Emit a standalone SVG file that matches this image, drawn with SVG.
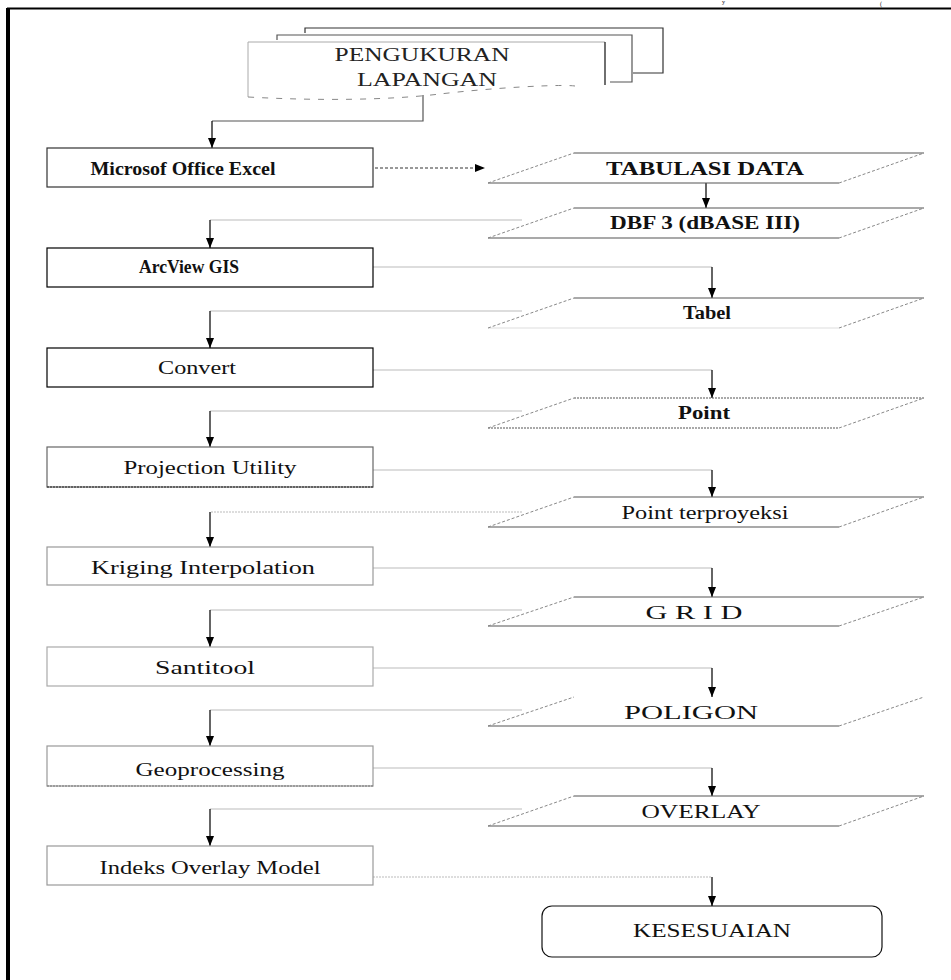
<svg xmlns="http://www.w3.org/2000/svg" width="951" height="980" viewBox="0 0 951 980">
<defs>
<marker id="ah" viewBox="0 0 10 8" refX="10" refY="4" markerWidth="10" markerHeight="8" orient="auto" markerUnits="userSpaceOnUse">
<path d="M0,0 L10,4 L0,8 z" fill="#000"/>
</marker>
</defs>
<style>
text{font-family:"Liberation Serif","Times New Roman",serif;font-size:18px;fill:#111;text-anchor:middle}
.b{font-weight:bold}
.frag{font-size:6px;text-anchor:start}
.box{fill:#fff;stroke-width:1.2}
.pe{stroke:#555;stroke-width:1.2;fill:none}
.ps{stroke:#888;stroke-width:1;stroke-dasharray:3 2;fill:none}
.h{stroke:#bbb;stroke-width:1.2;fill:none}
.v{stroke:#111;stroke-width:1.3;fill:none;marker-end:url(#ah)}
</style>
<rect width="951" height="980" fill="#fff"/>
<g id="frame">
<line x1="7" y1="8.5" x2="951" y2="8.5" stroke="#000" stroke-width="2"/>
<rect x="6" y="8" width="4" height="972" fill="#000"/>
<text class="frag" x="722" y="4">y</text>
<text class="frag" x="880" y="5.5">(</text>
</g>
<g id="connectors">
<path d="M423,95 V121 H212" stroke="#555" stroke-width="1.2" fill="none"/>
<path class="v" d="M212,121 V148"/>
<path d="M375,168 H485" stroke="#333" stroke-width="1" stroke-dasharray="3 2" fill="none" marker-end="url(#ah)"/>
<path class="v" d="M706,183 V208"/>
<path class="h" d="M522,220 H210"/><path class="v" d="M210,220 V248"/>
<path class="h" d="M373,267 H712"/><path class="v" d="M712,267 V298"/>
<path class="h" d="M522,311 H210"/><path class="v" d="M210,311 V348"/>
<path class="h" d="M373,370 H712"/><path class="v" d="M712,370 V398"/>
<path class="h" d="M522,411 H210"/><path class="v" d="M210,411 V447"/>
<path class="h" d="M373,470 H712"/><path class="v" d="M712,470 V497"/>
<path class="h" d="M522,512 H210" stroke-dasharray="2 1"/><path class="v" d="M210,512 V547"/>
<path class="h" d="M373,568 H712"/><path class="v" d="M712,568 V597"/>
<path class="h" d="M522,610 H210"/><path class="v" d="M210,610 V647"/>
<path class="h" d="M373,668 H712"/><path class="v" d="M712,668 V697"/>
<path class="h" d="M522,710 H210"/><path class="v" d="M210,710 V746"/>
<path class="h" d="M373,768 H712"/><path class="v" d="M712,768 V796"/>
<path class="h" d="M522,809 H210"/><path class="v" d="M210,809 V846"/>
<path class="h" d="M373,877 H712" stroke-dasharray="2 1"/><path class="v" d="M712,877 V906"/>
</g>
<g id="pengukuran">
<path d="M305,33 V28 H663 V73 H633" fill="none" stroke="#333" stroke-width="1.2"/>
<path d="M277,40 V35 H632 V82 H610" fill="none" stroke="#555" stroke-width="1.2"/>
<path d="M248,97 V42 H605" fill="#fff" stroke="#aaa" stroke-width="1"/>
<path d="M605,42 V85" fill="none" stroke="#222" stroke-width="1.3"/>
<path d="M248,97 C320,101 390,100 440,94 S560,84 575,86" fill="none" stroke="#888" stroke-width="1" stroke-dasharray="6 8"/>
<text x="422" y="61" textLength="175" lengthAdjust="spacingAndGlyphs" style="fill:#222">PENGUKURAN</text>
<text x="427" y="86" textLength="140" lengthAdjust="spacingAndGlyphs" style="fill:#222">LAPANGAN</text>
</g>
<g id="excel">
<rect class="box" x="47" y="148" width="326" height="39" stroke="#333"/>
<text class="b" x="183" y="175" textLength="185" lengthAdjust="spacingAndGlyphs">Microsof Office Excel</text>
</g>
<g id="tabulasi">
<path class="pe" d="M574,153 H924 M488,183 H839"/>
<path class="ps" d="M488,183 L574,153 M839,183 L924,153"/>
<text class="b" x="705" y="175" textLength="198" lengthAdjust="spacingAndGlyphs">TABULASI DATA</text>
</g>
<g id="dbf">
<path class="pe" d="M574,208 H924 M488,238 H839"/>
<path class="ps" d="M488,238 L574,208 M839,238 L924,208"/>
<text class="b" x="705" y="229" textLength="190" lengthAdjust="spacingAndGlyphs">DBF 3 (dBASE III)</text>
</g>
<g id="arcview">
<rect class="box" x="47" y="248" width="326" height="39" stroke="#000"/>
<text class="b" x="189" y="273" textLength="100" lengthAdjust="spacingAndGlyphs">ArcView GIS</text>
</g>
<g id="tabel">
<path class="pe" d="M574,298 H924"/>
<path d="M488,328 H839" stroke="#ddd" stroke-width="1" fill="none"/>
<path class="ps" d="M488,328 L574,298 M839,328 L924,298"/>
<text class="b" x="707" y="319" textLength="48" lengthAdjust="spacingAndGlyphs">Tabel</text>
</g>
<g id="convert">
<rect class="box" x="47" y="348" width="326" height="39" stroke="#000"/>
<text x="197" y="374" textLength="78" lengthAdjust="spacingAndGlyphs">Convert</text>
</g>
<g id="point">
<path class="pe" d="M574,398 H924 M488,428 H839" stroke-dasharray="2 1"/>
<path class="ps" d="M488,428 L574,398 M839,428 L924,398"/>
<text class="b" x="704" y="419" textLength="52" lengthAdjust="spacingAndGlyphs">Point</text>
</g>
<g id="projection">
<rect class="box" x="47" y="447" width="326" height="40" stroke="#666"/>
<path d="M47,487 H373" stroke="#222" stroke-width="1.2" stroke-dasharray="2 1" fill="none"/>
<text x="210" y="474" textLength="173" lengthAdjust="spacingAndGlyphs">Projection Utility</text>
</g>
<g id="terproyeksi">
<path class="pe" d="M574,497 H924 M488,527 H839" stroke="#999"/>
<path class="ps" d="M488,527 L574,497 M839,527 L924,497" stroke="#aaa"/>
<text x="705" y="519" textLength="167" lengthAdjust="spacingAndGlyphs">Point terproyeksi</text>
</g>
<g id="kriging">
<rect class="box" x="47" y="547" width="326" height="38" stroke="#999"/>
<text x="203" y="574" textLength="224" lengthAdjust="spacingAndGlyphs">Kriging Interpolation</text>
</g>
<g id="grid">
<path class="pe" d="M574,597 H924 M488,626 H839" stroke="#999"/>
<path class="ps" d="M488,626 L574,597 M839,626 L924,597" stroke="#aaa"/>
<text x="694" y="619" textLength="97" lengthAdjust="spacingAndGlyphs">G R I D</text>
</g>
<g id="santitool">
<rect class="box" x="47" y="647" width="326" height="39" stroke="#aaa"/>
<text x="205" y="674" textLength="100" lengthAdjust="spacingAndGlyphs">Santitool</text>
</g>
<g id="poligon">
<path class="pe" d="M488,726 H839" stroke="#999"/>
<path class="ps" d="M488,726 L574,697 M839,726 L924,697" stroke="#aaa"/>
<text x="691" y="719" textLength="134" lengthAdjust="spacingAndGlyphs">POLIGON</text>
</g>
<g id="geoprocessing">
<rect class="box" x="47" y="746" width="326" height="40" stroke="#999"/>
<path d="M47,786 H373" stroke="#777" stroke-width="1.2" stroke-dasharray="2 1" fill="none"/>
<text x="210" y="776" textLength="149" lengthAdjust="spacingAndGlyphs">Geoprocessing</text>
</g>
<g id="overlay">
<path class="pe" d="M574,796 H924 M488,826 H839" stroke="#999"/>
<path class="ps" d="M488,826 L574,796 M839,826 L924,796" stroke="#aaa"/>
<text x="701" y="818" textLength="119" lengthAdjust="spacingAndGlyphs">OVERLAY</text>
</g>
<g id="indeks">
<rect class="box" x="47" y="846" width="326" height="39" stroke="#999"/>
<text x="210" y="874" textLength="221" lengthAdjust="spacingAndGlyphs">Indeks Overlay Model</text>
</g>
<g id="kesesuaian">
<rect class="box" x="542" y="906" width="340" height="51" rx="10" stroke="#111" stroke-width="1.5"/>
<text x="712" y="937" textLength="158" lengthAdjust="spacingAndGlyphs">KESESUAIAN</text>
</g>
</svg>
